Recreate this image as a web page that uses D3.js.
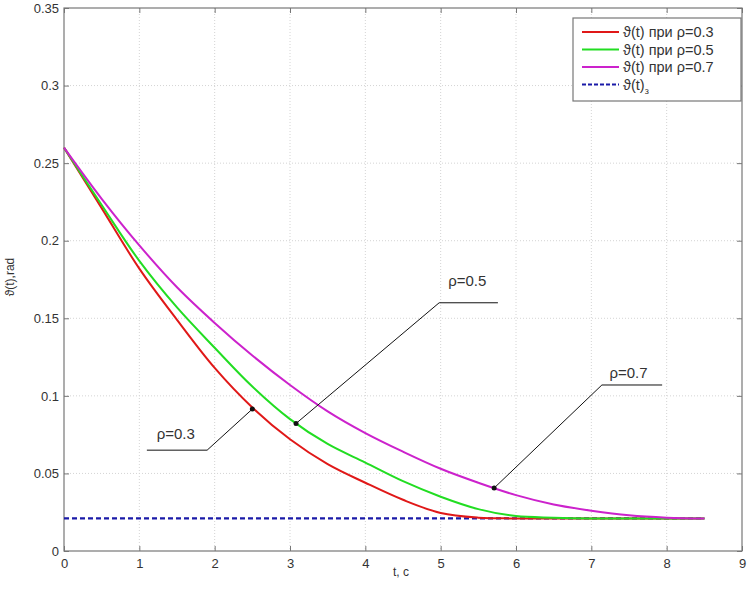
<!DOCTYPE html>
<html>
<head>
<meta charset="utf-8">
<style>
body { margin: 0; background: #fff; }
text { font-family: "Liberation Sans", Arial, sans-serif; fill: #333; }
.grid line { stroke: #d4d4d4; stroke-width: 1; stroke-dasharray: 1,2; }
.frame { fill: none; stroke: #777; stroke-width: 1.2; }
</style>
</head>
<body>
<svg width="747" height="598"></svg>
<script src="https://d3js.org/d3.v7.min.js"></script>
<script>
// time, s
const t = [0, 0.5, 1, 1.5, 2, 2.5, 3, 3.5, 4, 4.5, 5, 5.5, 6, 6.5, 7, 7.5, 8, 8.5]
// theta(t) for rho = 0.3, 0.5, 0.7
const rho03 = [0.26, 0.221, 0.182, 0.149, 0.118, 0.0925, 0.072, 0.056, 0.044, 0.033, 0.0245, 0.0215, 0.021, 0.021, 0.021, 0.021, 0.021, 0.021]
const rho05 = [0.26, 0.223, 0.187, 0.157, 0.131, 0.106, 0.085, 0.069, 0.057, 0.045, 0.035, 0.027, 0.0225, 0.0215, 0.021, 0.021, 0.021, 0.021]
const rho07 = [0.26, 0.227, 0.197, 0.170, 0.147, 0.126, 0.107, 0.090, 0.076, 0.064, 0.053, 0.044, 0.036, 0.030, 0.026, 0.023, 0.0215, 0.021]
// set value theta(t)з
const thetaSet = 0.021
const tEnd = 8.5

const xTicks = [0, 1, 2, 3, 4, 5, 6, 7, 8, 9]
const yTicks = [0, 0.05, 0.1, 0.15, 0.2, 0.25, 0.3, 0.35]

const seriesNames = ['ϑ(t) при ρ=0.3', 'ϑ(t) при ρ=0.5', 'ϑ(t) при ρ=0.7']
const seriesColors = ['#e01818', '#22dd22', '#cc22cc']
const seriesData = [rho03, rho05, rho07]

// callouts: point on curve, elbow, end of shelf (data units)
const callouts = [
  {label: 'ρ=0.3', pt: [2.5, 0.0915], elbow: [1.9, 0.065], end: [1.1, 0.065], text: [1.23, 0.072]},
  {label: 'ρ=0.5', pt: [3.08, 0.0822], elbow: [4.98, 0.16], end: [5.76, 0.16], text: [5.1, 0.171]},
  {label: 'ρ=0.7', pt: [5.71, 0.0406], elbow: [7.14, 0.107], end: [7.94, 0.107], text: [7.24, 0.1115]}
]

const svg = d3.select('svg')
const mLeft = 64, mRight = 742, mTop = 8, mBottom = 551

const x = d3.scaleLinear().domain([0, 9]).range([mLeft, mRight])
const y = d3.scaleLinear().domain([0, 0.35]).range([mBottom, mTop])

// grid
const grid = svg.append('g').attr('class', 'grid')
grid.selectAll('.gx').data(xTicks.slice(1, -1)).enter().append('line')
  .attr('x1', d => x(d)).attr('x2', d => x(d)).attr('y1', mTop).attr('y2', mBottom)
grid.selectAll('.gy').data(yTicks.slice(1, -1)).enter().append('line')
  .attr('x1', mLeft).attr('x2', mRight).attr('y1', d => y(d)).attr('y2', d => y(d))

// axes, ticks inward
svg.append('g').attr('transform', `translate(0,${mBottom})`)
  .call(d3.axisBottom(x).tickValues(xTicks).tickSize(-5).tickPadding(8).tickFormat(d3.format('d')))
svg.append('g').attr('transform', `translate(${mLeft},0)`)
  .call(d3.axisLeft(y).tickValues(yTicks).tickSize(-5).tickPadding(5).tickFormat(d => d === 0 ? '0' : String(d)))
svg.append('g').attr('transform', `translate(0,${mTop})`)
  .call(d3.axisTop(x).tickValues(xTicks).tickSize(-5).tickFormat(''))
svg.append('g').attr('transform', `translate(${mRight},0)`)
  .call(d3.axisRight(y).tickValues(yTicks).tickSize(-5).tickFormat(''))
svg.selectAll('.domain').remove()
svg.selectAll('.tick line').attr('stroke', '#777')
svg.selectAll('.tick text').style('font-size', '13px').attr('fill', '#333')

svg.append('rect').attr('class', 'frame')
  .attr('x', mLeft).attr('y', mTop).attr('width', mRight - mLeft).attr('height', mBottom - mTop)

// set value line
svg.append('line')
  .attr('x1', x(0)).attr('x2', x(tEnd)).attr('y1', y(thetaSet)).attr('y2', y(thetaSet))
  .attr('stroke', '#1a1aa8').attr('stroke-width', 2.4).attr('stroke-dasharray', '5,3')

// curves
const line = d3.line().x((d, i) => x(t[i])).y(d => y(d)).curve(d3.curveCatmullRom.alpha(0.5))
seriesData.forEach((s, k) => {
  svg.append('path').datum(s)
    .attr('d', line)
    .attr('fill', 'none')
    .attr('stroke', seriesColors[k])
    .attr('stroke-width', 2)
})

// callouts
const cg = svg.append('g')
callouts.forEach(c => {
  cg.append('polyline')
    .attr('points', [c.pt, c.elbow, c.end].map(p => x(p[0]) + ',' + y(p[1])).join(' '))
    .attr('fill', 'none').attr('stroke', '#111').attr('stroke-width', 1)
  cg.append('circle').attr('cx', x(c.pt[0])).attr('cy', y(c.pt[1])).attr('r', 2.5).attr('fill', '#111')
  cg.append('text').attr('x', x(c.text[0])).attr('y', y(c.text[1]))
    .style('font-size', '15px').text(c.label)
})

// axis labels
svg.append('text').attr('x', (mLeft + mRight) / 2 - 2).attr('y', 576)
  .attr('text-anchor', 'middle').style('font-size', '12px').text('t, c')
svg.append('text').attr('transform', 'translate(14,277) rotate(-90)')
  .attr('text-anchor', 'middle').style('font-size', '12px').text('ϑ(t),rad')

// legend
const lg = svg.append('g').attr('transform', 'translate(573,18)')
lg.append('rect').attr('width', 168).attr('height', 83)
  .attr('fill', '#fff').attr('stroke', '#777').attr('stroke-width', 1.2)
const legendItems = seriesNames.map((n, i) => ({name: n, color: seriesColors[i], dash: null}))
legendItems.push({name: 'ϑ(t)', sub: 'з', color: '#1a1aa8', dash: '4,2'})
legendItems.forEach((d, i) => {
  const yy = 14 + i * 17.5
  lg.append('line').attr('x1', 9).attr('x2', 46).attr('y1', yy).attr('y2', yy)
    .attr('stroke', d.color).attr('stroke-width', 2).attr('stroke-dasharray', d.dash)
  const tx = lg.append('text').attr('x', 50).attr('y', yy + 5).style('font-size', '14.5px').text(d.name)
  if (d.sub) tx.append('tspan').attr('dy', 4).style('font-size', '9px').text(d.sub)
})
</script>
</body>
</html>
